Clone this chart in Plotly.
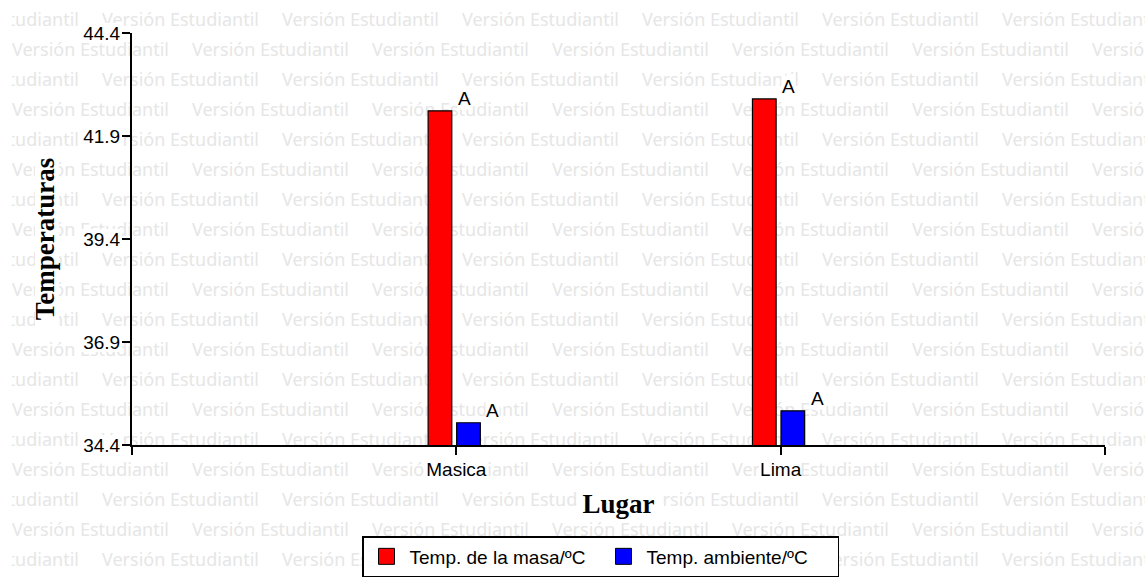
import plotly.graph_objects as go

# ---------------- data ----------------
lugares = ["Masica", "Lima"]
temp_masa = [42.51, 42.80]
temp_ambiente = [34.94, 35.23]
letras_masa = ["A", "A"]
letras_ambiente = ["A", "A"]
serie_nombres = ["Temp. de la masa/ºC", "Temp. ambiente/ºC"]
y_ticks = [34.4, 36.9, 39.4, 41.9, 44.4]
marca_agua = "Versión Estudiantil"

# ---------------- geometry / style ----------------
W, H = 1145, 580
ML, MR, MT, MB = 132, 40, 33, 135
PW = W - ML - MR
PH = H - MT - MB
Y_MIN, Y_MAX = y_ticks[0], y_ticks[-1]


def px_x(px):
    return (px - ML) / PW


def px_y(py):
    return (H - MB - py) / PH


SANS = "Liberation Sans, Arial, sans-serif"
SERIF = "Liberation Serif, Times New Roman, serif"
WM_FONT = "Noto Sans, DejaVu Sans, sans-serif"
RED, BLUE = "#ff0000", "#0000ff"

xpos = [i + 1 for i in range(len(lugares))]
x_tickvals = [0] + xpos + [len(lugares) + 1]
x_ticktext = [""] + lugares + [""]

BAR_W = 0.073
OFF_MASA = -0.087
OFF_AMB = 0.001

fig = go.Figure()
fig.add_trace(go.Bar(
    x=xpos, y=temp_masa, name=serie_nombres[0], offset=OFF_MASA, width=BAR_W,
    marker=dict(color=RED, line=dict(color="black", width=1.2)), showlegend=False,
))
fig.add_trace(go.Bar(
    x=xpos, y=temp_ambiente, name=serie_nombres[1], offset=OFF_AMB, width=BAR_W,
    marker=dict(color=BLUE, line=dict(color="black", width=1.2)), showlegend=False,
))
# legend entries (larger square swatches than the bar legend allows)
for nm, col in zip(serie_nombres, [RED, BLUE]):
    fig.add_trace(go.Scatter(
        x=[None], y=[None], mode="markers", name=nm,
        marker=dict(symbol="square", size=20, color=col, line=dict(color="black", width=1)),
    ))

# letters above bars
annotations = []
for vals, letters, off in [(temp_masa, letras_masa, OFF_MASA), (temp_ambiente, letras_ambiente, OFF_AMB)]:
    for xp, v, t in zip(xpos, vals, letters):
        annotations.append(dict(
            x=xp + off + BAR_W, y=v, xref="x", yref="y", text=t, showarrow=False,
            xanchor="left", yanchor="bottom", xshift=5, yshift=1,
            font=dict(family=SANS, size=19, color="black"),
            bgcolor="white", borderpad=0,
        ))

# watermark (drawn below the traces)
shapes = []
for k in range(19):
    center = 19.7 + 30 * k
    start = 102 - 180 if k % 2 == 0 else 12
    while start < W:
        shapes.append(dict(
            type="line", xref="paper", yref="paper", layer="below",
            x0=px_x(start), x1=px_x(start + 160), y0=px_y(center), y1=px_y(center),
            line=dict(width=0, color="rgba(0,0,0,0)"),
            label=dict(text=marca_agua, font=dict(family=WM_FONT, size=18, color="#e6e6e6"),
                       textposition="start", xanchor="left", yanchor="middle",
                       padding=0, textangle=0),
        ))
        start += 180


def white_box(x0, x1, y0, y1):
    shapes.append(dict(
        type="rect", xref="paper", yref="paper", layer="below",
        x0=px_x(x0), x1=px_x(x1), y0=px_y(y1), y1=px_y(y0),
        fillcolor="white", line=dict(width=0),
    ))


# left margin of watermark area
white_box(-2, 12, -2, H + 2)
# backgrounds behind tick labels and titles
for t in y_ticks:
    py = MT + (Y_MAX - t) / (Y_MAX - Y_MIN) * PH
    white_box(80, 122, py - 10, py + 10)
white_box(424, 487, 456, 481)
white_box(759, 800, 456, 481)
white_box(578, 662, 489, 519)
white_box(35, 59, 152, 327)

fig.update_layout(
    width=W, height=H,
    margin=dict(l=ML, r=MR, t=MT, b=MB, pad=0, autoexpand=False),
    paper_bgcolor="white", plot_bgcolor="rgba(0,0,0,0)",
    barmode="overlay",
    showlegend=True,
    legend=dict(
        orientation="h", x=px_x(362), xanchor="left", y=px_y(536), yanchor="top",
        bgcolor="white", bordercolor="black", borderwidth=1.5,
        font=dict(family=SANS, size=19, color="black"),
        entrywidth=186, entrywidthmode="pixels", itemsizing="trace", itemwidth=36,
    ),
    xaxis=dict(
        range=[0, len(lugares) + 1], tickmode="array", tickvals=x_tickvals, ticktext=x_ticktext,
        showgrid=False, zeroline=False, showline=True, linecolor="black", linewidth=2,
        ticks="outside", ticklen=8, tickwidth=1.5, tickcolor="black",
        ticklabelstandoff=-2,
        tickfont=dict(family=SANS, size=19, color="black"),
        title=dict(text="Lugar", font=dict(family=SERIF, size=27, color="black", weight="bold"), standoff=15),
        fixedrange=True,
    ),
    yaxis=dict(
        range=[Y_MIN, Y_MAX], tickmode="array", tickvals=y_ticks,
        ticktext=[f"{t:.1f}" for t in y_ticks],
        showgrid=False, zeroline=False, showline=True, linecolor="black", linewidth=2,
        ticks="outside", ticklen=8, tickwidth=1.5, tickcolor="black",
        ticklabelstandoff=-2,
        tickfont=dict(family=SANS, size=19, color="black"),
        title=dict(text="Temperaturas", font=dict(family=SERIF, size=27, color="black", weight="bold"), standoff=21),
        fixedrange=True,
    ),
    annotations=annotations,
    shapes=shapes,
)

fig.write_html(
    "out.html",
    config={"displayModeBar": False},
    post_script="document.body.style.margin='0';document.body.style.overflow='hidden';",
)
